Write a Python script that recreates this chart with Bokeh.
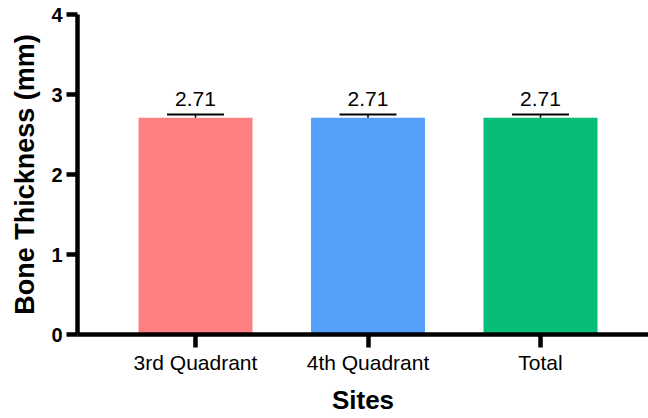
from bokeh.plotting import figure
from bokeh.models import ColumnDataSource, FixedTicker
from bokeh.core.properties import value
from bokeh.embed import file_html
from bokeh.resources import INLINE

categories = ["3rd Quadrant", "4th Quadrant", "Total"]
means = [2.71, 2.71, 2.71]
errors = [0.04, 0.04, 0.04]
colors = ["#FF8080", "#55A0FB", "#06BE78"]
y_ticks = [0, 1, 2, 3, 4]

xs = [i + 1 for i in range(len(categories))]
cap_half = 0.165
src = ColumnDataSource(dict(
    x=xs, top=means, color=colors,
    up=[m + e for m, e in zip(means, errors)],
    lab=[f"{m:.2f}" for m in means],
    cl=[x - cap_half for x in xs], cr=[x + cap_half for x in xs],
))

p = figure(width=648, height=418, output_backend="svg", toolbar_location=None,
           x_range=(0.316, 3.626), y_range=(0, 4),
           min_border_left=77, min_border_right=0, min_border_top=14, min_border_bottom=84)
p.outline_line_color = None
p.xgrid.visible = False
p.ygrid.visible = False
p.background_fill_color = "white"

p.vbar(x="x", top="top", width=0.661, bottom=0, color="color", line_color=None, source=src)
p.segment(x0="x", y0="top", x1="x", y1="up", line_color="black", line_width=1.5, source=src)
p.segment(x0="cl", y0="up", x1="cr", y1="up", line_color="black", line_width=2, source=src)
p.text(x="x", y="up", text="lab", text_align="center", text_baseline="bottom",
       y_offset=-9, text_font=value("Liberation Sans"), text_font_size="21px",
       text_color="black", source=src)

# y axis
ya = p.yaxis[0]
ya.ticker = FixedTicker(ticks=y_ticks)
ya.axis_line_width = 4.5
ya.major_tick_line_width = 4.5
ya.major_tick_out = 11
ya.major_tick_in = 0
ya.minor_tick_line_color = None
ya.major_label_text_font = "Liberation Sans"
ya.major_label_text_font_style = "bold"
ya.major_label_text_font_size = "20px"
ya.major_label_text_color = "black"
ya.major_label_standoff = 4
ya.axis_label = "Bone Thickness (mm)"
ya.axis_label_text_font = "Liberation Sans"
ya.axis_label_text_font_style = "bold"
ya.axis_label_text_font_size = "27px"
ya.axis_label_text_color = "black"
ya.axis_label_standoff = 8

# x axis
xa = p.xaxis[0]
xa.ticker = FixedTicker(ticks=xs)
xa.major_label_overrides = {x: c for x, c in zip(xs, categories)}
xa.axis_line_width = 4.5
xa.major_tick_line_width = 4.5
xa.major_tick_out = 13
xa.major_tick_in = 0
xa.minor_tick_line_color = None
xa.major_label_text_font = "Liberation Sans"
xa.major_label_text_font_size = "21px"
xa.major_label_text_color = "black"
xa.major_label_standoff = 3
xa.axis_label = "Sites"
xa.axis_label_text_font = "Liberation Sans"
xa.axis_label_text_font_style = "bold"
xa.axis_label_text_font_size = "26px"
xa.axis_label_text_color = "black"
xa.axis_label_standoff = 8

open("out.html", "w").write(file_html(p, INLINE))
